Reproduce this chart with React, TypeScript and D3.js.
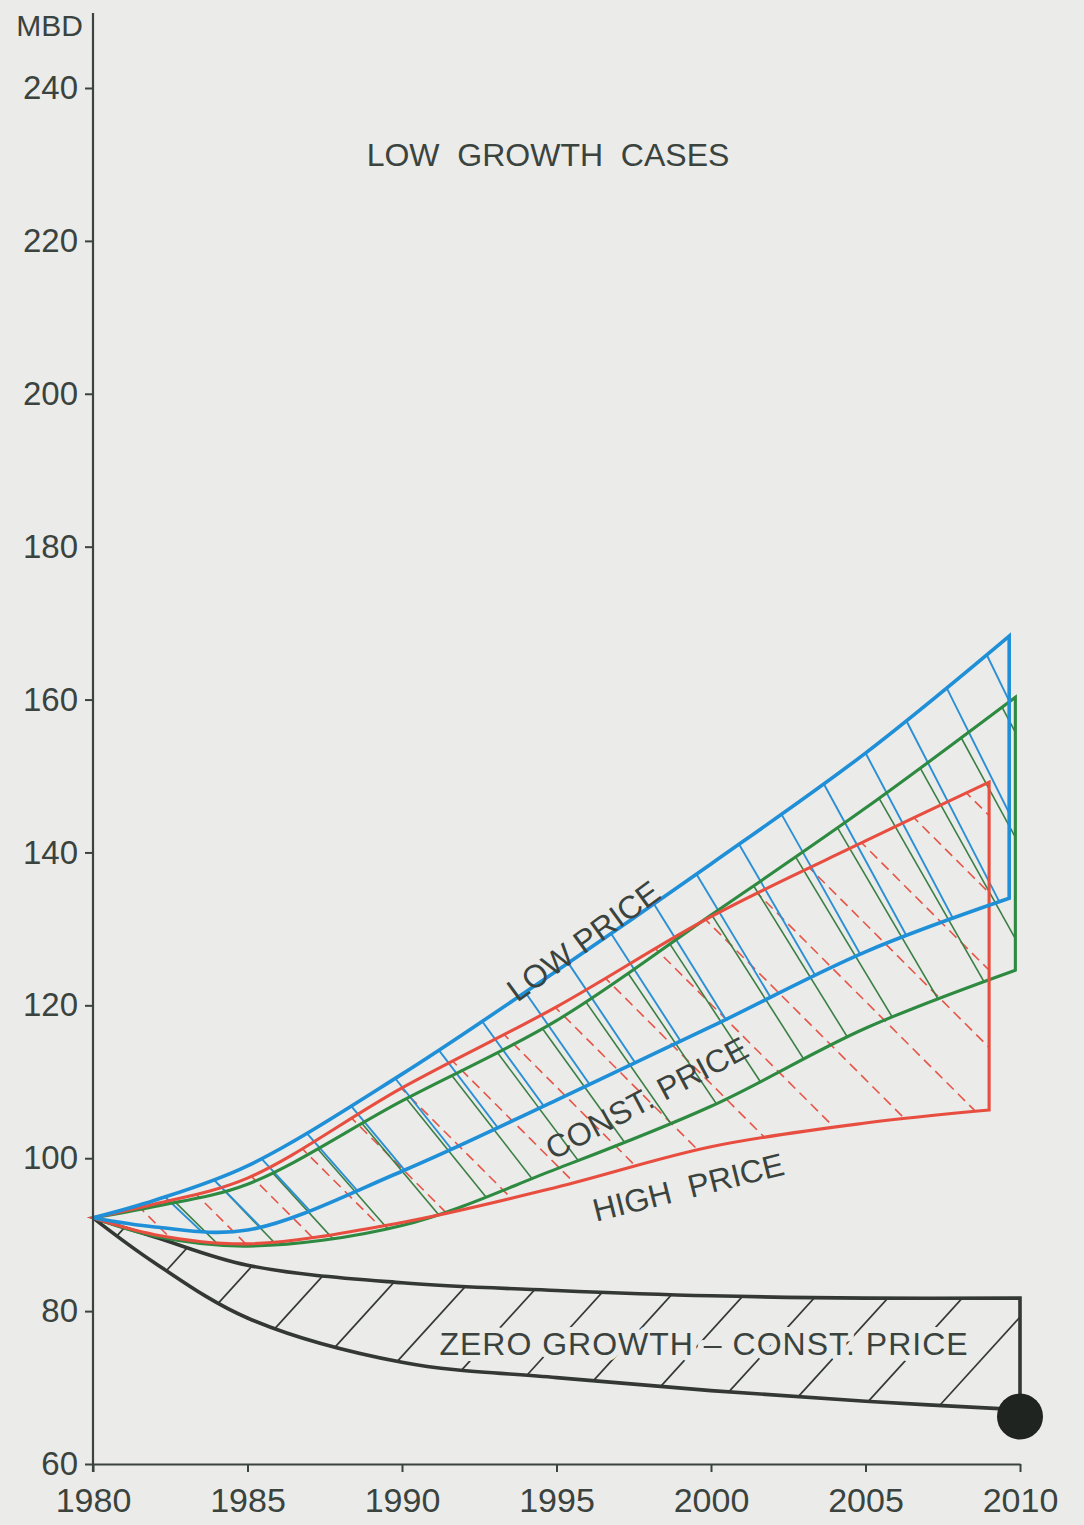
import React, { useEffect, useRef } from 'react';
import * as d3 from 'd3';

const W = 1084;
const H = 1525;
const PAPER = '#ebebe9';
const INK = '#3a433e';
const FONT = '"Liberation Sans", Arial, Helvetica, sans-serif';

// years shared by every band; the last value of each band sits at its own end year
const years = [1980, 1982, 1985, 1990, 1995, 2000, 2005];
const lowPriceEnd = 2009.65;
const constPriceEnd = 2009.85;
const highPriceEnd = 2009.0;
const zeroGrowthEnd = 2010;

// MBD, upper and lower edge of each case band
const lowPriceHigh = [92.2, 94.5, 99.0, 111.0, 124.5, 138.5, 153.0, 168.3];
const lowPriceLow = [92.2, 91.0, 90.6, 98.3, 107.6, 117.2, 127.0, 134.0];
const constPriceHigh = [92.2, 93.7, 96.6, 107.5, 118.0, 131.8, 145.8, 160.3];
const constPriceLow = [92.2, 89.8, 88.5, 91.2, 98.6, 106.8, 117.0, 124.6];
const highPriceHigh = [92.2, 94.0, 97.4, 109.2, 119.8, 131.6, 141.5, 149.2];
const highPriceLow = [92.2, 90.0, 88.8, 91.6, 96.2, 101.5, 104.6, 106.3];
const zeroGrowthHigh = [92.2, 89.7, 86.0, 83.7, 82.7, 82.0, 81.7, 81.7];
const zeroGrowthLow = [92.2, 86.3, 79.1, 73.3, 71.3, 69.6, 68.2, 67.1];

const yTicks = [60, 80, 100, 120, 140, 160, 180, 200, 220, 240];
const xTicks = [1980, 1985, 1990, 1995, 2000, 2005, 2010];
const yAxisTop = 249.8;
const blot = { year: 2010, value: 66.2 };

export default function App() {
  const ref = useRef<SVGSVGElement>(null);
  useEffect(() => {
    if (ref.current) draw(ref.current);
  }, []);
  return (
    <svg
      ref={ref}
      width={W}
      height={H}
      style={{ position: 'absolute', left: 0, top: 0, display: 'block' }}
    />
  );
}

type Pt = { t: number; hi: number; lo: number };

function draw(node: SVGSVGElement) {
  const svg = d3.select(node);
  svg.selectAll('*').remove();

  const x = d3.scaleLinear().domain([1980, 2010]).range([93, 1020]);
  const y = d3.scaleLinear().domain([60, 240]).range([1464, 88]);

  svg.append('rect').attr('width', W).attr('height', H).attr('fill', PAPER);
  const defs = svg.append('defs');

  const bands: any[] = [
    {
      id: 'zero', end: zeroGrowthEnd, hi: zeroGrowthHigh, lo: zeroGrowthLow,
      color: '#333835', width: 3.6, guide: 'lo', dir: -1, start: 30,
      step: (s: number) => 60 + 0.014 * s, slope: () => 1.1,
      hatchColor: '#333835', hatchWidth: 1.7, dash: null,
    },
    {
      id: 'high', end: highPriceEnd, hi: highPriceHigh, lo: highPriceLow,
      color: '#e84e40', width: 3.1, guide: 'hi', dir: 1, start: 48,
      step: () => 58, slope: () => 1.0,
      hatchColor: '#e65548', hatchWidth: 1.6, dash: '10,6',
    },
    {
      id: 'const', end: constPriceEnd, hi: constPriceHigh, lo: constPriceLow,
      color: '#2e8a40', width: 3.1, guide: 'hi', dir: 1, start: 84,
      step: () => 51, slope: (f: number) => 0.9 + 1.0 * f,
      hatchColor: '#3a7f43', hatchWidth: 1.6, dash: null,
    },
    {
      id: 'low', end: lowPriceEnd, hi: lowPriceHigh, lo: lowPriceLow,
      color: '#1f8fd8', width: 3.6, guide: 'hi', dir: 1, start: 75,
      step: () => 52, slope: (f: number) => 0.85 + 1.25 * f,
      hatchColor: '#2a8fd5', hatchWidth: 1.9, dash: null,
    },
  ];

  const curve = d3.curveCatmullRom.alpha(0.5);

  bands.forEach(b => {
    const pts: Pt[] = b.hi.map((v: number, i: number) => ({
      t: i < years.length ? years[i] : b.end,
      hi: v,
      lo: b.lo[i],
    }));
    const area = d3.area<Pt>()
      .x(d => x(d.t))
      .y0(d => y(d.lo))
      .y1(d => y(d.hi))
      .curve(curve);
    const guideLine = d3.line<Pt>()
      .x(d => x(d.t))
      .y(d => y(b.guide === 'hi' ? d.hi : d.lo))
      .curve(curve);
    b.areaD = area(pts);
    defs.append('clipPath').attr('id', `clip-${b.id}`)
      .append('path').attr('d', b.areaD);

    // hatch lines start on the guide edge, evenly spaced along its length
    const g = svg.append('path').attr('d', guideLine(pts)).attr('fill', 'none');
    const gn = g.node() as SVGPathElement;
    const L = gn.getTotalLength();
    const segs: any[] = [];
    for (let s = b.start; s < L - 2; s += b.step(s)) {
      const p = gn.getPointAtLength(s);
      const f = (p.x - x(1980)) / (x(2010) - x(1980));
      const k = b.slope(f) * b.dir;
      const n = Math.hypot(1, k);
      segs.push({
        x1: p.x - 4 / n, y1: p.y - (4 * k) / n,
        x2: p.x + 700 / n, y2: p.y + (700 * k) / n,
      });
    }
    g.remove();
    b.segs = segs;
  });

  const drawHatch = (b: any) => {
    svg.append('g')
      .attr('clip-path', `url(#clip-${b.id})`)
      .selectAll('line')
      .data(b.segs)
      .join('line')
      .attr('x1', (d: any) => d.x1)
      .attr('y1', (d: any) => d.y1)
      .attr('x2', (d: any) => d.x2)
      .attr('y2', (d: any) => d.y2)
      .attr('stroke', b.hatchColor)
      .attr('stroke-width', b.hatchWidth)
      .attr('stroke-dasharray', b.dash);
  };
  const drawOutline = (b: any) => {
    svg.append('path')
      .attr('d', b.areaD)
      .attr('fill', 'none')
      .attr('stroke', b.color)
      .attr('stroke-width', b.width)
      .attr('stroke-linejoin', 'miter');
  };

  const [zero, high, cons, low] = bands;
  drawHatch(zero);
  drawOutline(zero);
  drawHatch(high);
  drawHatch(cons);
  drawHatch(low);
  drawOutline(cons);
  drawOutline(high);
  drawOutline(low);

  // axes
  const yAxis = svg.append('g')
    .attr('transform', `translate(${x(1980)},0)`)
    .call(d3.axisLeft(y).tickValues(yTicks).tickSize(8).tickPadding(7).tickSizeOuter(0));
  yAxis.select('.domain').remove();
  yAxis.selectAll('line').attr('stroke', INK).attr('stroke-width', 2);
  yAxis.selectAll('text')
    .attr('font-family', FONT).attr('font-size', 33).attr('fill', INK);

  svg.append('line')
    .attr('x1', x(1980)).attr('x2', x(1980))
    .attr('y1', y(yAxisTop)).attr('y2', y(60) + 8)
    .attr('stroke', INK).attr('stroke-width', 2.2);

  const xAxis = svg.append('g')
    .attr('transform', `translate(0,${y(60)})`)
    .call(
      d3.axisBottom(x).tickValues(xTicks).tickFormat(d3.format('d'))
        .tickSize(8).tickPadding(16).tickSizeOuter(0)
    );
  xAxis.select('.domain').attr('stroke', INK).attr('stroke-width', 2.2);
  xAxis.selectAll('line').attr('stroke', INK).attr('stroke-width', 2);
  xAxis.selectAll('text')
    .attr('font-family', FONT).attr('font-size', 34).attr('fill', INK);

  // labels
  const label = (txt: string, cx: number, cy: number, size: number, rot = 0, spacing = 0) =>
    svg.append('text')
      .attr('transform', `translate(${cx},${cy}) rotate(${rot})`)
      .attr('text-anchor', 'middle')
      .attr('font-family', FONT)
      .attr('font-size', size)
      .attr('letter-spacing', spacing)
      .attr('fill', INK)
      .attr('xml:space', 'preserve')
      .style('white-space', 'pre')
      .text(txt);

  svg.append('text')
    .attr('x', 83).attr('y', 36)
    .attr('text-anchor', 'end')
    .attr('font-family', FONT).attr('font-size', 30).attr('fill', INK)
    .text('MBD');

  label('LOW  GROWTH  CASES', 548, 166, 32);
  label('LOW PRICE', 590, 950, 32, -36);
  label('CONST. PRICE', 652, 1108, 32, -28);
  label('HIGH  PRICE', 691, 1198, 32, -14);
  label('ZERO GROWTH – CONST. PRICE', 704, 1355, 32, 0, 1)
    .attr('stroke', PAPER)
    .attr('stroke-width', 12)
    .attr('stroke-linejoin', 'round')
    .attr('paint-order', 'stroke');

  svg.append('circle')
    .attr('cx', x(blot.year))
    .attr('cy', y(blot.value))
    .attr('r', 23)
    .attr('fill', '#1f2421');
}
